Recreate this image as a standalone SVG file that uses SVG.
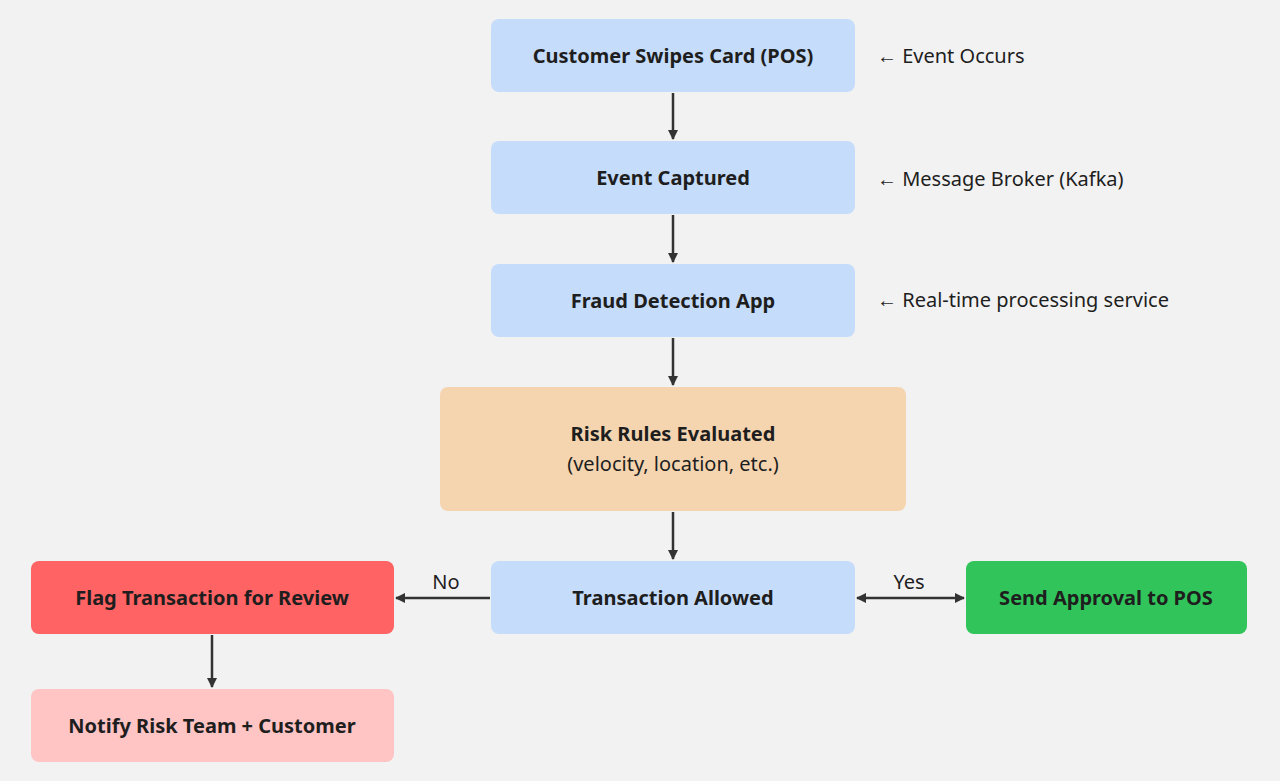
<svg xmlns="http://www.w3.org/2000/svg" width="1280" height="781" viewBox="0 0 1280 781">
<style>
text{font-family:"Noto Sans","Open Sans","Liberation Sans",sans-serif;fill:#1e1e1e}
.t{font-size:20px;font-weight:bold;text-anchor:middle}
.n{font-size:20px;text-anchor:middle}
.s{font-size:20px}
.c{stroke:#333;stroke-width:2.5;fill:none}
</style>
<defs>
<marker id="a" viewBox="0 0 10 10" refX="9" refY="5" markerWidth="10" markerHeight="10" markerUnits="userSpaceOnUse" orient="auto-start-reverse"><path d="M0,0L10,5L0,10z" fill="#333"/></marker>
</defs>
<rect width="1280" height="781" fill="#f2f2f2"/>
<g id="n1"><rect x="491" y="19" width="364" height="73" rx="8" fill="#c6dcfb"/><text class="t" x="673" y="63">Customer Swipes Card (POS)</text></g>
<g id="n2"><rect x="491" y="141" width="364" height="73" rx="8" fill="#c6dcfb"/><text class="t" x="673" y="185">Event Captured</text></g>
<g id="n3"><rect x="491" y="264" width="364" height="73" rx="8" fill="#c6dcfb"/><text class="t" x="673" y="308">Fraud Detection App</text></g>
<g id="n4"><rect x="440" y="387" width="466" height="124" rx="8" fill="#f5d5b0"/><text class="t" x="673" y="441">Risk Rules Evaluated</text><text class="n" x="673" y="471">(velocity, location, etc.)</text></g>
<g id="n5"><rect x="491" y="561" width="364" height="73" rx="8" fill="#c6dcfb"/><text class="t" x="673" y="605">Transaction Allowed</text></g>
<g id="n6"><rect x="31" y="561" width="363" height="73" rx="8" fill="#ff6363"/><text class="t" x="212" y="605">Flag Transaction for Review</text></g>
<g id="n7"><rect x="966" y="561" width="281" height="73" rx="8" fill="#31c45a"/><text class="t" x="1106" y="605">Send Approval to POS</text></g>
<g id="n8"><rect x="31" y="689" width="363" height="73" rx="8" fill="#ffc4c4"/><text class="t" x="212" y="733">Notify Risk Team + Customer</text></g>
<g id="notes">
<text class="s" x="877" y="63">← Event Occurs</text>
<text class="s" x="877" y="186">← Message Broker (Kafka)</text>
<text class="s" x="877" y="307">← Real-time processing service</text>
</g>
<g id="connectors">
<path class="c" d="M673,93V139" marker-end="url(#a)"/>
<path class="c" d="M673,215V262" marker-end="url(#a)"/>
<path class="c" d="M673,338V385" marker-end="url(#a)"/>
<path class="c" d="M673,512V559" marker-end="url(#a)"/>
<path class="c" d="M490,598H396" marker-end="url(#a)"/>
<path class="c" d="M857,598H964" marker-start="url(#a)" marker-end="url(#a)"/>
<path class="c" d="M212,635V687" marker-end="url(#a)"/>
<text class="n" x="446" y="589">No</text>
<text class="n" x="909" y="589">Yes</text>
</g>
</svg>
